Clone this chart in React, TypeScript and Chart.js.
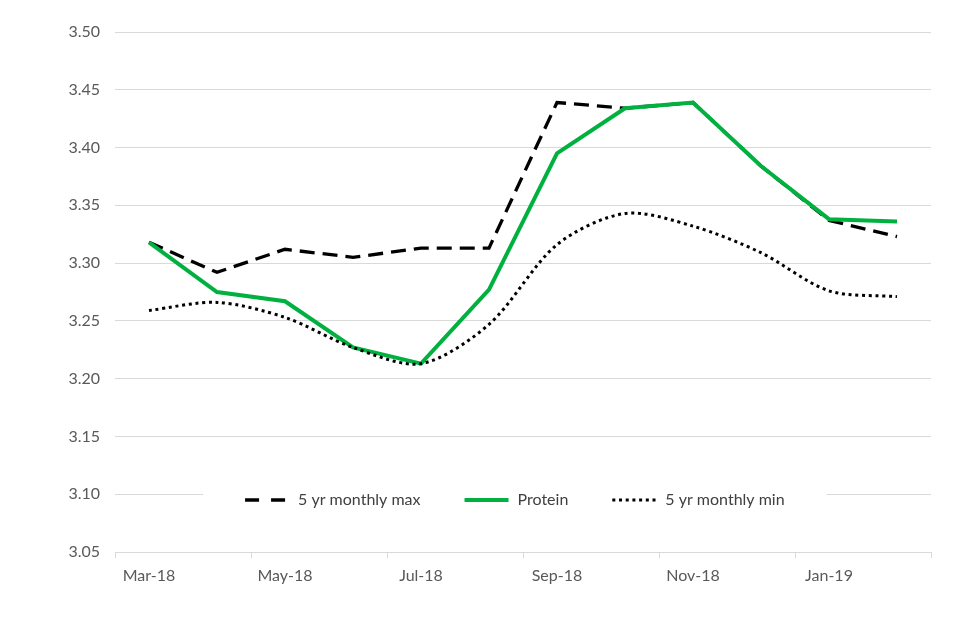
import React, { useEffect, useRef } from "react";
import { Chart, registerables } from "chart.js";

Chart.register(...registerables);

const categories = ["Mar-18", "Apr-18", "May-18", "Jun-18", "Jul-18", "Aug-18", "Sep-18", "Oct-18", "Nov-18", "Dec-18", "Jan-19", "Feb-19"];
const maxValues = [3.318, 3.292, 3.312, 3.305, 3.313, 3.313, 3.439, 3.434, 3.439, 3.384, 3.337, 3.323];
const proteinValues = [3.318, 3.275, 3.267, 3.227, 3.213, 3.277, 3.395, 3.434, 3.439, 3.384, 3.338, 3.336];
const minValues = [3.259, 3.266, 3.253, 3.227, 3.213, 3.247, 3.316, 3.343, 3.332, 3.309, 3.276, 3.271];
const seriesLabels = ["5 yr monthly max", "Protein", "5 yr monthly min"];
const yMin = 3.05;
const yMax = 3.5;
const yStep = 0.05;

const FONT = "Lato, 'Noto Sans', sans-serif";
const GREEN = "#00b140";

const legendPlugin = {
  id: "innerLegend",
  afterDraw(chart: any) {
    const ctx = chart.ctx as CanvasRenderingContext2D;
    const area = chart.chartArea;
    const sets = chart.data.datasets;
    const orderIdx = [0, 1, 2];
    const sampleDash = [[14, 12], [], [3, 3.7]];
    ctx.save();
    ctx.font = `16px ${FONT}`;
    const sampleW = 44;
    const gap = 9;
    const spacing = 44;
    const widths = orderIdx.map((i) => ctx.measureText(sets[i].label).width);
    const total = widths.reduce((a, w) => a + w + sampleW + gap, 0) + spacing * (orderIdx.length - 1);
    const cx = area.left + (area.right - area.left) * 0.49;
    const cy = area.bottom - 52;
    ctx.fillStyle = "#ffffff";
    ctx.fillRect(cx - total / 2 - 42, cy - 16, total + 84, 32);
    let x = cx - total / 2;
    orderIdx.forEach((i, k) => {
      const ds = sets[i];
      ctx.beginPath();
      ctx.strokeStyle = ds.borderColor;
      ctx.lineWidth = ds.borderWidth;
      ctx.setLineDash(sampleDash[k]);
      ctx.lineCap = "butt";
      ctx.moveTo(x, cy);
      ctx.lineTo(x + sampleW, cy);
      ctx.stroke();
      ctx.setLineDash([]);
      ctx.fillStyle = "#404040";
      ctx.textBaseline = "middle";
      ctx.textAlign = "left";
      ctx.fillText(ds.label, x + sampleW + gap, cy);
      x += sampleW + gap + widths[k] + spacing;
    });
    ctx.restore();
  },
};

export default function App() {
  const ref = useRef<HTMLCanvasElement | null>(null);
  useEffect(() => {
    if (!ref.current) return;
    const chart = new Chart(ref.current, {
      type: "line",
      data: {
        labels: categories,
        datasets: [
          {
            label: seriesLabels[0],
            data: maxValues,
            borderColor: "#000000",
            borderWidth: 3.3,
            borderDash: [15, 8],
            pointRadius: 0,
            tension: 0,
            fill: false,
            order: 2,
          },
          {
            label: seriesLabels[1],
            data: proteinValues,
            borderColor: GREEN,
            borderWidth: 4,
            pointRadius: 0,
            tension: 0,
            fill: false,
            order: 1,
          },
          {
            label: seriesLabels[2],
            data: minValues,
            borderColor: "#000000",
            borderWidth: 3,
            borderDash: [3, 3.7],
            pointRadius: 0,
            tension: 0.3,
            fill: false,
            order: 0,
          },
        ],
      },
      options: {
        responsive: true,
        maintainAspectRatio: false,
        animation: false,
        layout: { padding: { left: 0, top: 32, right: 29, bottom: 0 } },
        plugins: { legend: { display: false }, tooltip: { enabled: false } },
        scales: {
          x: {
            offset: true,
            afterFit(scale: any) {
              scale.height = 88;
            },
            grid: {
              offset: true,
              drawOnChartArea: false,
              tickLength: 6,
              color: (c: any) => (c.index === undefined || c.index % 2 === 0 ? "#d9d9d9" : "rgba(0,0,0,0)"),
            },
            border: { display: true, color: "#d9d9d9" },
            ticks: {
              autoSkip: false,
              maxRotation: 0,
              padding: 8,
              color: "#595959",
              font: { family: FONT, size: 16 },
              callback: (_v: any, i: number) => (i % 2 === 0 ? categories[i] : ""),
            },
          },
          y: {
            min: yMin,
            max: yMax,
            afterFit(scale: any) {
              scale.width = 115;
            },
            grid: { color: "#d9d9d9", drawTicks: false, lineWidth: 1 },
            border: { display: false },
            ticks: {
              stepSize: yStep,
              padding: 15,
              color: "#595959",
              font: { family: FONT, size: 16 },
              callback: (v: any) => Number(v).toFixed(2),
            },
          },
        },
      },
      plugins: [legendPlugin],
    });
    return () => chart.destroy();
  }, []);
  return (
    <div style={{ position: "fixed", left: 0, top: 0, width: 960, height: 640, background: "#ffffff" }}>
      <canvas ref={ref} />
    </div>
  );
}
